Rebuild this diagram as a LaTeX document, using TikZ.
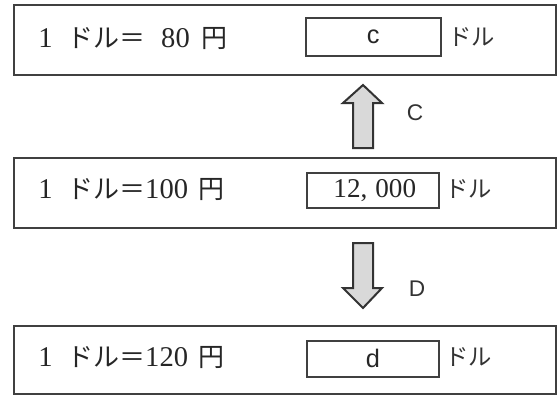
\documentclass[tikz,border=0pt]{standalone}
\usepackage{fontspec}
\usetikzlibrary{calc}
\setmainfont{Liberation Serif}[Scale=1.1]
\newfontfamily\jp{Noto Sans CJK JP}
\newfontfamily\lsans{Liberation Sans}
\begin{document}
\begin{tikzpicture}[x=0.75pt,y=-0.75pt,
  outerbox/.style={draw=black!75,line width=1.6pt,minimum width=542*0.75pt,minimum height=70*0.75pt,inner sep=0pt,anchor=north west},
  innerbox/.style={draw=black!75,line width=1.2pt,minimum width=132*0.75pt,minimum height=36*0.75pt,inner sep=0pt,anchor=north west},
  rowtext/.style={anchor=base west,inner sep=0pt,font=\fontsize{19.5}{21}\selectfont,text=black!85},
  boxtext/.style={font=\lsans\fontsize{19}{21}\selectfont,text=black!85},
  numtext/.style={font=\fontsize{18.5}{20}\selectfont,text=black!85},
  unit/.style={anchor=base west,inner sep=0pt,font=\jp\fontsize{17.5}{19}\selectfont,text=black!80},
  lbl/.style={font=\lsans\fontsize{17}{19}\selectfont,text=black!80},
  fatarrow/.style={fill=gray!30,draw=black!80,line width=1.5pt,line join=miter}
]
\useasboundingbox (0,0) rectangle (559,397);
% outer boxes
\node[outerbox] (r1) at (13,4) {};
\node[outerbox] (r2) at (13,157) {};
\node[outerbox,minimum height=68*0.75pt] (r3) at (13,325) {};
% row texts
\node[rowtext] (t1) at (38,47) {1\hspace{11pt}{\jp ドル＝}\hspace{12pt}80\hspace{9pt}{\jp 円}};
\node[rowtext] (t2) at (38,198) {1\hspace{11pt}{\jp ドル＝}100\hspace{8pt}{\jp 円}};
\node[rowtext] (t3) at (38,366) {1\hspace{11pt}{\jp ドル＝}120\hspace{8pt}{\jp 円}};
% inner boxes
\node[innerbox,minimum width=135*0.75pt,minimum height=38*0.75pt] (b1) at (305,17) {};
\node[innerbox,minimum height=35*0.75pt] (b2) at (306,172) {};
\node[innerbox] (b3) at (306,340) {};
\node[boxtext] (c1) at (b1.center) {c};
\node[numtext] (n2) at ($(b2.center)+(2,0)$) {12,\hspace{6pt}000};
\node[boxtext] (d3) at (b3.center) {d};
% units
\node[unit] (u1) at (448,45) {ドル};
\node[unit] (u2) at (445,197) {ドル};
\node[unit] (u3) at (445,365) {ドル};
% arrows
\coordinate (upbase) at (363,148);
\coordinate (uptip) at (363,85);
\draw[fatarrow] ($(upbase)+(-10,0)$) -- ($(upbase)+(-10,-45)$) -- ($(upbase)+(-20,-45)$) -- (uptip) -- ($(upbase)+(19,-45)$) -- ($(upbase)+(10,-45)$) -- ($(upbase)+(10,0)$) -- cycle;
\coordinate (dnbase) at (363,243);
\coordinate (dntip) at (363,308);
\draw[fatarrow] ($(dnbase)+(-10,0)$) -- ($(dnbase)+(-10,45)$) -- ($(dnbase)+(-20,45)$) -- (dntip) -- ($(dnbase)+(19,45)$) -- ($(dnbase)+(10,45)$) -- ($(dnbase)+(10,0)$) -- cycle;
\node[lbl] (C) at (415,113) {C};
\node[lbl] (D) at (417,289) {D};
\end{tikzpicture}
\end{document}
